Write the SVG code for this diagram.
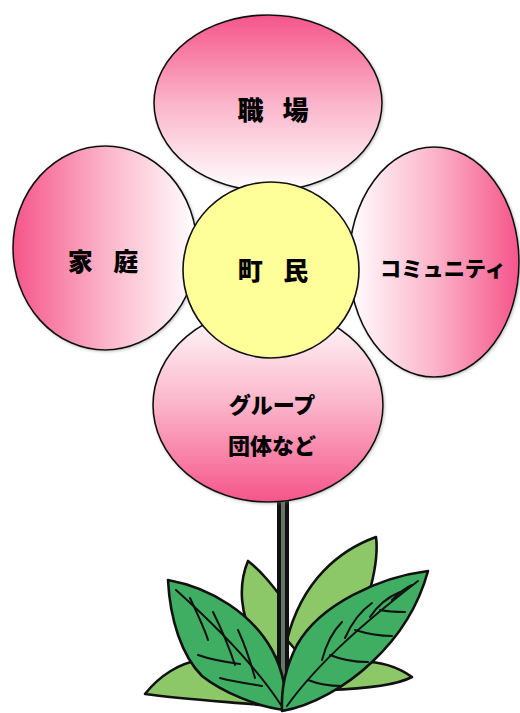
<svg xmlns="http://www.w3.org/2000/svg" width="520" height="713" viewBox="0 0 520 713">
  <defs>
    <linearGradient id="gTop" x1="0" y1="0" x2="0" y2="1">
      <stop offset="0" stop-color="#f5558a"/>
      <stop offset="0.5" stop-color="#fbb4ca"/>
      <stop offset="1" stop-color="#ffffff"/>
    </linearGradient>
    <linearGradient id="gBottom" x1="0" y1="1" x2="0" y2="0">
      <stop offset="0" stop-color="#f5558a"/>
      <stop offset="0.5" stop-color="#fbb4ca"/>
      <stop offset="1" stop-color="#ffffff"/>
    </linearGradient>
    <linearGradient id="gLeft" x1="0" y1="0" x2="1" y2="0">
      <stop offset="0" stop-color="#f5558a"/>
      <stop offset="0.5" stop-color="#fbb4ca"/>
      <stop offset="1" stop-color="#ffffff"/>
    </linearGradient>
    <linearGradient id="gRight" x1="1" y1="0" x2="0" y2="0">
      <stop offset="0" stop-color="#f5558a"/>
      <stop offset="0.5" stop-color="#fbb4ca"/>
      <stop offset="1" stop-color="#ffffff"/>
    </linearGradient>
    <filter id="soft" x="-10%" y="-10%" width="120%" height="120%">
      <feDropShadow dx="1" dy="1" stdDeviation="1.5" flood-color="#777" flood-opacity="0.45"/>
    </filter>
  </defs>
  <style>
    .petal { stroke: #111; stroke-width: 1.6; filter: url(#soft); }
    .core { fill: #ffff99; stroke: #111; stroke-width: 1.6; }
    .label { font-family: "Noto Sans CJK JP", "Noto Sans", sans-serif; font-weight: 900; fill: #000; text-anchor: middle; dominant-baseline: central; }
    .leafLight { fill: #8dc868; stroke: #111; stroke-width: 2.6; stroke-linejoin: round; }
    .leafDark { fill: #3fae63; stroke: #111; stroke-width: 2.6; stroke-linejoin: round; }
    .vein { fill: none; stroke: #111; stroke-width: 2; stroke-linecap: round; }
  </style>

  <!-- leaves behind the stem -->
  <g id="leaves-back">
    <path class="leafLight" d="M248,561 C238,585 240,615 255,640 L282,662 L282,598 C272,585 262,572 248,561 Z"/>
    <path class="leafLight" d="M376,537 C340,550 302,580 287,640 L300,655 L371,586 C375,570 378,552 376,537 Z"/>
    <path class="leafLight" d="M145,694 C160,675 180,663 200,660 L262,690 L272,706 C230,702 180,699 145,694 Z"/>
    <path class="leafLight" d="M412,677 C395,665 375,660 352,662 L328,690 C360,689 395,686 412,677 Z"/>
  </g>

  <!-- stem -->
  <g id="stem">
    <line x1="283" y1="495" x2="283" y2="707" stroke="#111" stroke-width="12"/>
    <line x1="283" y1="495" x2="283" y2="707" stroke="#65766b" stroke-width="4"/>
  </g>

  <!-- front leaves -->
  <g id="leaves-front">
    <path class="leafDark" d="M168,580 C212,588 252,614 272,650 C284,672 287,695 285,710 C258,707 222,692 202,676 C182,656 170,620 168,580 Z"/>
    <path class="vein" d="M176,590 C215,625 255,665 281,705"/>
    <path class="vein" d="M190,598 C198,615 205,630 208,640"/>
    <path class="vein" d="M213,612 C222,630 230,650 235,665"/>
    <path class="vein" d="M238,630 C245,645 250,660 255,678"/>
    <path class="vein" d="M198,655 C212,660 225,662 240,664"/>
    <path class="vein" d="M220,678 C235,682 250,684 262,686"/>

    <path class="leafDark" d="M428,571 C380,577 320,604 297,645 C285,668 281,690 282,711 C312,706 347,686 372,662 C402,634 419,604 428,571 Z"/>
    <path class="vein" d="M418,581 C370,618 320,660 287,706"/>
    <path class="vein" d="M392,600 C398,594 405,588 412,585"/>
    <path class="vein" d="M370,617 C378,605 388,597 400,592"/>
    <path class="vein" d="M345,638 C352,622 362,610 372,603"/>
    <path class="vein" d="M322,660 C326,645 332,632 342,622"/>
    <path class="vein" d="M380,610 C390,612 398,612 405,612"/>
    <path class="vein" d="M355,630 C368,634 380,636 392,636"/>
    <path class="vein" d="M330,655 C342,660 355,662 368,662"/>
    <path class="vein" d="M308,680 C318,684 330,686 342,686"/>
  </g>

  <!-- petals -->
  <g id="petal-top">
    <ellipse class="petal" cx="268" cy="103" rx="114" ry="88" fill="url(#gTop)"/>
    <text class="label" x="273" y="108" font-size="26" word-spacing="13">職 場</text>
  </g>
  <g id="petal-left">
    <ellipse class="petal" cx="105" cy="248" rx="92" ry="102" fill="url(#gLeft)"/>
    <text class="label" x="103" y="260" font-size="25" word-spacing="15">家 庭</text>
  </g>
  <g id="petal-right">
    <ellipse class="petal" cx="434" cy="262" rx="85" ry="115" fill="url(#gRight)"/>
    <text class="label" x="443" y="267" font-size="21" textLength="126" lengthAdjust="spacingAndGlyphs">コミュニティ</text>
  </g>
  <g id="petal-bottom">
    <ellipse class="petal" cx="268" cy="405" rx="115" ry="97" fill="url(#gBottom)"/>
    <text class="label" x="272" y="403" font-size="22">グループ</text>
    <text class="label" x="272" y="444" font-size="22">団体など</text>
  </g>

  <!-- centre -->
  <g id="core">
    <circle class="core" cx="271" cy="270" r="88"/>
    <text class="label" x="273" y="269" font-size="25" word-spacing="15">町 民</text>
  </g>
</svg>
